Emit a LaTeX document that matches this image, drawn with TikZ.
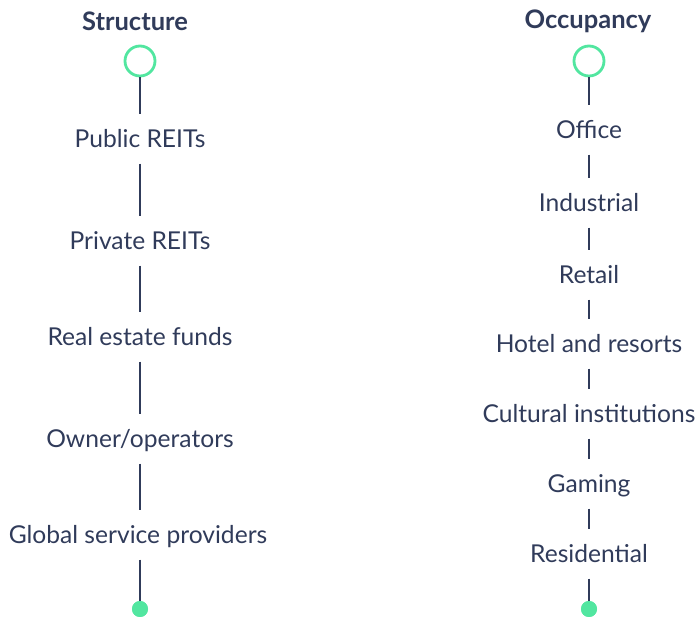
\documentclass[tikz,border=0pt]{standalone}
\usepackage{fontspec}
\setmainfont{Lato}
\usetikzlibrary{positioning}
\definecolor{ink}{RGB}{48,59,90}
\definecolor{mint}{RGB}{82,230,160}
\tikzset{
  item/.style={text=ink, font=\fontsize{24.6}{28}\selectfont, text height=17pt, text depth=0pt, inner xsep=0pt, inner ysep=16pt},
  head/.style={text=ink, font=\fontsize{25.5}{29}\selectfont\bfseries},
  stem/.style={draw=ink, line width=2.6pt},
  ring/.style={circle, draw=mint, line width=2.8pt, minimum size=30pt, inner sep=0pt},
  knob/.style={circle, fill=mint, minimum size=16pt, inner sep=0pt}
}

\begin{document}
\begin{tikzpicture}[x=1pt,y=1pt]
          \useasboundingbox (0,0) rectangle (697,-617);
          % Structure
          \node[head] (st) at (135,-21) {Structure};
          \node[ring] (st0) at (140,-61) {};
          \node[item] (st1) at (140,-139) {Public REITs};
          \node[item] (st2) at (140,-241) {Private REITs};
          \node[item] (st3) at (140,-337) {Real estate funds};
          \node[item] (st4) at (140,-439) {Owner/operators};
          \node[item] (st5) at (138,-535) {Global service providers};
          \node[knob] (st6) at (140,-609) {};
          \draw[stem] (st0) -- (st1);
          \draw[stem] (st1) -- (st2);
          \draw[stem] (st2) -- (st3);
          \draw[stem] (st3) -- (st4);
          \draw[stem] (st4) -- (st4 |- st5.north);
          \draw[stem] (st6 |- st5.south) -- (st6.center);
          \node[knob] at (st6) {};
          % Occupancy
          \node[head] (oc) at (588,-21) {Occupancy};
          \node[ring] (oc0) at (589,-61) {};
          \node[item] (oc1) at (589,-130) {Office};
          \node[item] (oc2) at (589,-203) {Industrial};
          \node[item] (oc3) at (589,-275) {Retail};
          \node[item] (oc4) at (589,-344) {Hotel and resorts};
          \node[item] (oc5) at (589,-414) {Cultural institutions};
          \node[item] (oc6) at (589,-484) {Gaming};
          \node[item] (oc7) at (589,-554) {Residential};
          \node[knob] (oc8) at (589,-609) {};
          \draw[stem] (oc0) -- (oc1);
          \draw[stem] (oc1) -- (oc2);
          \draw[stem] (oc2) -- (oc3);
          \draw[stem] (oc3) -- (oc4);
          \draw[stem] (oc4) -- (oc5);
          \draw[stem] (oc5) -- (oc6);
          \draw[stem] (oc6) -- (oc7);
          \draw[stem] (oc7) -- (oc8.center);
          \node[knob] at (oc8) {};
\end{tikzpicture}
\end{document}
